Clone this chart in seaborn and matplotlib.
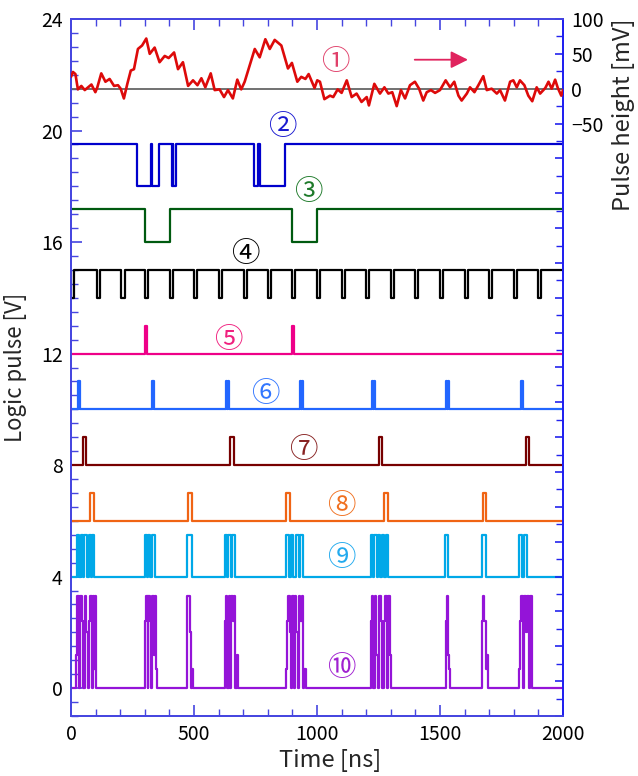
import pandas as pd
import matplotlib
matplotlib.use("Agg")
import matplotlib.pyplot as plt
from matplotlib.ticker import MultipleLocator, FuncFormatter
import seaborn as sns

# (1) analog pulse height [mV] on the right axis
t1 = [0, 8, 18, 28, 42, 56, 66, 83, 99, 107, 123, 140, 157, 175, 191, 202, 215, 229, 243, 256,
      272, 289, 306, 320, 340, 360, 381, 397, 419, 435, 455, 476, 496, 514, 530, 546, 568, 584,
      604, 622, 638, 658, 676, 692, 706, 726, 747, 767, 790, 808, 828, 855, 882, 898, 920, 936,
      953, 966, 990, 1001, 1012, 1030, 1053, 1066, 1084, 1100, 1121, 1141, 1161, 1181, 1202,
      1211, 1233, 1256, 1274, 1290, 1306, 1324, 1341, 1358, 1378, 1398, 1415, 1432, 1446, 1463,
      1480, 1500, 1523, 1541, 1558, 1575, 1588, 1609, 1622, 1640, 1656, 1676, 1690, 1710, 1731,
      1744, 1764, 1785, 1798, 1812, 1825, 1843, 1859, 1875, 1893, 1907, 1928, 1941, 1954, 1968,
      1979, 1993, 2000]
mv1 = [17, 24, 21, -1, 4, -2, 1, 6, -5, 2, 22, 10, 14, 4, 5, 0, -14, 7, 26, 28,
       57, 62, 72, 50, 59, 38, 47, 44, 52, 28, 38, 4, 12, 5, 15, 2, 22, -2,
       -1, -12, -2, -14, 13, -1, 10, 33, 57, 45, 71, 57, 70, 62, 29, 37, 10, 17,
       14, 21, 1, 12, 10, -15, -10, -12, -1, -6, 12, -12, -7, -19, -12,
       -24, 7, -7, 2, -7, -5, -25, -2, -14, 5, 10, 0, -17, -5, -2,
       -6, -2, 12, 2, 10, -10, -17, -7, 2, -5, 5, 18, -2, 0, -7,
       -2, -17, 10, 12, 2, 12, 5, -10, -18, 2, -7, 1, 10, 0, 13,
       1, -10, -2]

# logic traces: [start, end] of the pulses, base level and pulse level [V]
p2_start = [267, 331, 409, 416, 745, 768]
p2_end = [326, 359, 413, 425, 762, 870]
p3_start = [300, 900]
p3_end = [401, 998]
p4_start = [0, 104, 205, 300, 402, 500, 600, 702, 800, 898, 1000, 1100, 1200, 1300, 1398,
            1500, 1600, 1700, 1802, 1897]
p4_end = [13, 117, 218, 313, 415, 513, 613, 715, 813, 911, 1013, 1113, 1213, 1313, 1411,
          1513, 1613, 1713, 1815, 1910]
p5_start = [300, 900]
p5_end = [308, 907]
p6_start = [27, 34, 328, 334, 630, 637, 931, 938, 1224, 1231, 1526, 1533, 1828, 1835]
p6_end = [31, 38, 332, 338, 634, 641, 935, 942, 1228, 1235, 1530, 1537, 1832, 1839]
p7_start = [50, 648, 1250, 1848]
p7_end = [63, 662, 1264, 1862]
p8_start = [78, 476, 875, 1273, 1676]
p8_end = [93, 491, 889, 1288, 1688]
p9_start = [26, 39, 53, 72, 85, 300, 313, 329, 473, 625, 638, 655, 875, 893, 915, 931,
            1220, 1233, 1249, 1263, 1279, 1520, 1669, 1821, 1840]
p9_end = [34, 47, 64, 80, 94, 308, 321, 343, 492, 633, 649, 665, 885, 904, 925, 942,
          1228, 1244, 1257, 1271, 1290, 1534, 1685, 1832, 1854]

levels = {'2': (19.5, 18.0), '3': (17.2, 16.0), '4': (15.0, 14.0), '5': (12.0, 13.0),
          '6': (10.0, 11.0), '7': (8.0, 9.0), '8': (6.0, 7.0), '9': (4.0, 5.5)}

# (10) multi-level bursts, step edges [ns] and levels [V]
t10 = [0, 22, 26, 32, 38, 44, 50, 58, 62, 68, 73, 79, 84, 89, 94, 98, 103,
       302, 306, 311, 315, 320, 326, 331, 337, 342, 347, 351,
       473, 483, 488, 493, 497,
       625, 630, 636, 641, 647, 652, 658, 663, 668, 673, 677,
       875, 879, 884, 889, 894, 899, 905, 911, 916, 921, 927, 932, 938, 944, 949, 954,
       1219, 1223, 1229, 1235, 1241, 1247, 1253, 1259, 1265, 1271, 1277, 1283, 1289, 1295, 1301,
       1523, 1528, 1533, 1537, 1541,
       1669, 1674, 1680, 1686, 1691, 1695,
       1821, 1826, 1831, 1837, 1843, 1849, 1855, 1861, 1867, 1872, 1876, 2000]
v10 = [0, 1.2, 3.3, 0.0, 3.3, 2.4, 0.0, 3.3, 2.0, 0.0, 2.4, 3.3, 0.0, 3.3, 0.7, 3.3, 0.0,
       2.4, 3.3, 0.0, 3.3, 2.4, 0.0, 3.3, 1.2, 3.3, 0.7, 0.0,
       3.3, 2.0, 0.0, 0.7, 0.0,
       2.4, 3.3, 0.0, 3.3, 0.0, 3.3, 2.4, 3.3, 0.0, 1.2, 0.0,
       0.7, 2.4, 3.3, 2.0, 0.0, 3.3, 0.0, 3.3, 2.0, 0.0, 3.3, 2.4, 3.3, 0.0, 0.7, 0.0,
       2.4, 3.3, 0.0, 3.3, 1.2, 0.0, 3.3, 2.4, 0.0, 2.4, 3.3, 0.0, 3.3, 1.2, 0.0,
       2.4, 3.3, 1.2, 0.7, 0.0,
       2.4, 3.3, 2.4, 0.7, 1.2, 0.0,
       0.7, 2.4, 3.3, 0.0, 3.3, 2.0, 3.3, 0.0, 3.3, 0.7, 0.0, 0.0]

labels = ['①', '②', '③', '④', '⑤', '⑥', '⑦', '⑧', '⑨', '⑩']
label_t = [1073, 858, 963, 707, 638, 789, 943, 1098, 1098, 1098]
label_v = [22.47, 20.14, 17.81, 15.56, 12.47, 10.54, 8.53, 6.52, 4.66, 0.72]

line_colors = {'2': '#0000cc', '3': '#005a10', '4': '#000000', '5': '#ee0088', '6': '#2266ff',
               '7': '#770000', '8': '#f06414', '9': '#00a8e8', '10': '#9414d8'}
label_colors = ['#e0406a', '#1a1ad0', '#1e7a2a', '#000000', '#f0207f', '#3377ff',
                '#882222', '#f07020', '#22aaee', '#a020d0']


def pulse_train(starts, ends, base, peak):
    t = [0]
    v = [base]
    for s, e in zip(starts, ends):
        t += [s, e]
        v += [peak, base]
    t.append(2000)
    v.append(base)
    return pd.DataFrame({'t': t, 'v': v})


sns.set_style('white')
plt.rcParams['font.family'] = ['Noto Sans CJK JP', 'DejaVu Sans']
axis_blue = '#4646e0'

fig = plt.figure(figsize=(6.38, 7.76), dpi=100)
ax = fig.add_axes([71 / 638, 1 - 716 / 776, 492 / 638, 697 / 776])
ax2 = ax.twinx()

trains = {'2': (p2_start, p2_end), '3': (p3_start, p3_end), '4': (p4_start, p4_end),
          '5': (p5_start, p5_end), '6': (p6_start, p6_end), '7': (p7_start, p7_end),
          '8': (p8_start, p8_end), '9': (p9_start, p9_end)}
for key, (st, en) in trains.items():
    base, peak = levels[key]
    df = pulse_train(st, en, base, peak)
    sns.lineplot(data=df, x='t', y='v', ax=ax, color=line_colors[key], lw=1.6,
                 drawstyle='steps-post', estimator=None, sort=False, legend=False)

df10 = pd.DataFrame({'t': t10, 'v': v10})
sns.lineplot(data=df10, x='t', y='v', ax=ax, color=line_colors['10'], lw=1.6,
             drawstyle='steps-post', estimator=None, sort=False, legend=False)

# analog trace on the right axis
ax2.axhline(0, color='#666666', lw=1.3, zorder=1)
df1 = pd.DataFrame({'t': t1, 'mv': mv1})
sns.lineplot(data=df1, x='t', y='mv', ax=ax2, color='#dd0a0a', lw=1.9,
             estimator=None, sort=False, legend=False, zorder=3)

for lab, lt, lv, lc in zip(labels, label_t, label_v, label_colors):
    ax.text(lt, lv, lab, color=lc, fontsize=20.5, ha='center', va='center',
            family=['Noto Sans CJK JP', 'DejaVu Sans'])

ax.annotate('', xy=(1625, 22.54), xytext=(1386, 22.54),
            arrowprops=dict(arrowstyle='-|>', color='#e0245e', lw=1.3, mutation_scale=26))

ax.set_xlim(0, 2000)
ax.set_ylim(-1, 24)
ax2.set_ylim(-900, 100)

ax.set_xticks([0, 500, 1000, 1500, 2000])
ax.xaxis.set_minor_locator(MultipleLocator(100))
ax.set_yticks([0, 4, 8, 12, 16, 20, 24])
ax.yaxis.set_minor_locator(MultipleLocator(0.5))
ax2.yaxis.set_major_locator(MultipleLocator(50))
ax2.yaxis.set_minor_locator(MultipleLocator(25))
ax2.yaxis.set_major_formatter(FuncFormatter(lambda v, p: '' if v < -60 else f'{v:.0f}'.replace('-', '\u2212')))

ax.tick_params(which='both', direction='in', top=True, bottom=True, left=True, right=False,
               color=axis_blue, labelsize=14, labelcolor='black')
ax.tick_params(which='major', length=8, width=1.2, pad=6)
ax.tick_params(which='minor', length=5, width=1.0)
ax2.tick_params(which='both', direction='in', color='#2222ee', labelsize=14, labelcolor='black')
ax2.tick_params(which='major', length=6, width=1.2, pad=6)
ax2.tick_params(which='minor', length=5, width=1.0)

for a in (ax, ax2):
    for side in ['top', 'bottom', 'left']:
        a.spines[side].set_color(axis_blue)
        a.spines[side].set_linewidth(1.3)
    a.spines['right'].set_color('#2020f0')
    a.spines['right'].set_linewidth(1.3)

ax.set_xlabel('Time [ns]', fontsize=17)
ax.set_ylabel('Logic pulse [V]', fontsize=16)
ax2.set_ylabel('Pulse height [mV]', fontsize=17, rotation=90)
ax.xaxis.set_label_coords(0.526, -0.048)
ax.yaxis.set_label_coords(-0.09, 0.5)
ax2.yaxis.set_label_coords(1.10, 0.862)

fig.savefig('out.png', dpi=100)
